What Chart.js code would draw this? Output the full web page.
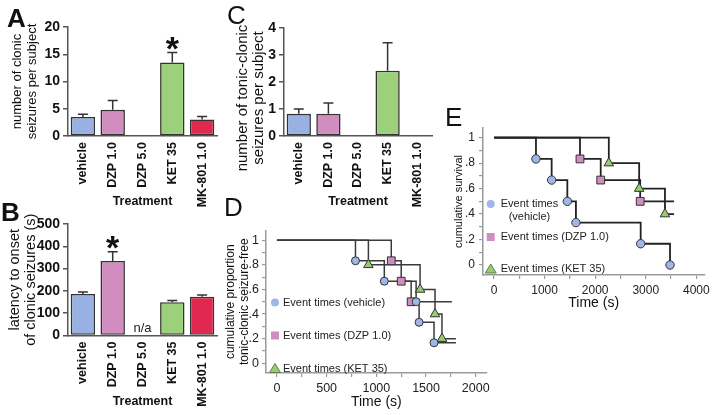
<!DOCTYPE html>
<html><head><meta charset="utf-8">
<script src="https://cdn.jsdelivr.net/npm/chart.js@4.4.1/dist/chart.umd.min.js"></script>
<style>
html,body{margin:0;padding:0;background:#fff;}
#wrap{position:relative;width:714px;height:415px;overflow:hidden;background:#fff;font-family:'Liberation Sans',Arial,Helvetica,sans-serif;}
canvas{position:absolute;}
.pl{position:absolute;font-size:26px;line-height:26px;color:#111;}
</style></head><body>
<div id="wrap">
<canvas id="cA" width="232" height="215" style="left:0px;top:0px;width:232px;height:215px"></canvas>
<canvas id="cB" width="232" height="220" style="left:0px;top:195px;width:232px;height:220px"></canvas>
<canvas id="cC" width="216" height="215" style="left:230px;top:0px;width:216px;height:215px"></canvas>
<canvas id="cD" width="270" height="195" style="left:224px;top:220px;width:270px;height:195px"></canvas>
<canvas id="cE" width="269" height="215" style="left:445px;top:100px;width:269px;height:215px"></canvas>
<div class="pl" style="left:7px;top:5px;font-weight:bold">A</div>
<div class="pl" style="left:1px;top:199px;font-weight:bold">B</div>
<div class="pl" style="left:227px;top:2px">C</div>
<div class="pl" style="left:224px;top:194px">D</div>
<div class="pl" style="left:445px;top:104px">E</div>
</div>
<script>
// ---------- categories ----------
const treatments = ['vehicle','DZP 1.0','DZP 5.0','KET 35','MK-801 1.0'];
const treatmentColors = ['#98b1e2','#d18cc0','#bbbbbb','#9dd07a','#e1284f'];

// ---------- panel A: clonic seizures per subject (mean, upper SEM end) ----------
const clonicCount    = [3.5, 4.8, 0, 13.5, 3.05];
const clonicCountSEM = [4.0, 6.5, null, 15.3, 3.6];
const clonicCountSig = [false, false, false, true, false];

// ---------- panel B: latency to clonic seizures (s) ----------
const clonicLatency    = [186, 334, null, 149, 174];
const clonicLatencySEM = [195, 376, null, 157, 182];
const clonicLatencySig = [false, true, false, false, false];

// ---------- panel C: tonic-clonic seizures per subject ----------
const tonicCount    = [0.82, 0.82, 0, 2.42, 0];
const tonicCountSEM = [1.0, 1.22, null, 3.45, null];
const tonicCountSig = [false, false, false, false, false];

// ---------- panel D: tonic-clonic seizure-free (Kaplan-Meier) ----------
const kmStartTime = 0, kmStartSurv = 1;
const dVehicleTimes = [790, 1080, 1400, 1430, 1580];
const dVehicleSurv  = [0.833, 0.667, 0.5, 0.333, 0.167];
const dDzpTimes = [1150, 1250, 1350];
const dDzpSurv  = [0.833, 0.667, 0.5];
const dKetTimes = [920, 1440, 1590, 1660];
const dKetSurv  = [0.8, 0.6, 0.4, 0.2];
const dFollowUpEnd = [1800, 1760, 1800]; // vehicle, DZP 1.0, KET 35

// ---------- panel E: cumulative survival ----------
const eVehicleTimes = [830, 1140, 1450, 1620, 2900, 3480];
const eVehicleSurv  = [0.833, 0.667, 0.5, 0.333, 0.167, 0];
const eDzpTimes = [1700, 2110, 2890];
const eDzpSurv  = [0.833, 0.667, 0.5];
const eKetTimes = [2270, 2870, 3380];
const eKetSurv  = [0.8, 0.6, 0.4];
const eFollowUpEnd = [3480, 3560, 3560];

// ---------- tick labels ----------
const survTickValues = [0, 0.2, 0.4, 0.6, 0.8, 1];
const survTickLabels = ['0', '.2', '.4', '.6', '.8', '1'];
const survMinorTicks = [0.1, 0.3, 0.5, 0.7, 0.9];
const dTimeTicks = [0, 500, 1000, 1500, 2000];
const dTimeMinor = [250, 750, 1250, 1750];
const eTimeTicks = [0, 1000, 2000, 3000, 4000];
const eTimeMinor = [500, 1500, 2500, 3500];
const kmLegendD = [['Event times (vehicle)'], ['Event times (DZP 1.0)'], ['Event times (KET 35)']];
const kmLegendE = [['Event times', '(vehicle)'], ['Event times (DZP 1.0)'], ['Event times (KET 35)']];
const markerColors = {circle:'#9fb6e8', rect:'#d18cc0', triangle:'#98cb72'};

const FONT = "'Liberation Sans', Arial, Helvetica, sans-serif";
Chart.defaults.font.family = FONT;
Chart.defaults.color = '#111';

const fixW = w => s => { s.width = w; };
const fixH = h => s => { s.height = h; };

const errorBarPlugin = {
  id: 'errbars',
  afterDatasetsDraw(chart, args, o) {
    const {ctx} = chart; const x = chart.scales.x, y = chart.scales.y;
    ctx.save();
    ctx.strokeStyle = '#333'; ctx.lineWidth = 1.5;
    o.tops.forEach((t, i) => {
      if (t == null || o.means[i] == null) return;
      const px = x.getPixelForValue(i), y0 = y.getPixelForValue(o.means[i]), y1 = y.getPixelForValue(t);
      ctx.beginPath(); ctx.moveTo(px, y0); ctx.lineTo(px, y1);
      ctx.moveTo(px - 5, y1); ctx.lineTo(px + 5, y1); ctx.stroke();
      if (o.sig[i]) {
        ctx.fillStyle = '#111'; ctx.font = "bold 34px " + FONT;
        ctx.textAlign = 'center'; ctx.textBaseline = 'alphabetic';
        ctx.fillText('*', px, y1 + 7);
      }
    });
    o.means.forEach((m, i) => {
      if (m == null && o.na) {
        ctx.fillStyle = '#222'; ctx.font = "13px " + FONT;
        ctx.textAlign = 'center'; ctx.textBaseline = 'middle';
        ctx.fillText('n/a', x.getPixelForValue(i), y.bottom - 7.5);
      }
    });
    // y-axis title (rotated, multi-line), placed beside the axis
    if (o.ytitle) {
      const t = o.ytitle;
      ctx.fillStyle = '#111'; ctx.font = t.font; ctx.textAlign = 'center'; ctx.textBaseline = 'middle';
      t.lines.forEach((ln, k) => {
        ctx.save(); ctx.translate(t.x + k * t.dx, t.cy); ctx.rotate(-Math.PI / 2);
        ctx.fillText(ln, 0, 0); ctx.restore();
      });
    }
    ctx.restore();
  }
};

function barChart(id, c) {
  return new Chart(document.getElementById(id), {
    type: 'bar',
    data: {labels: treatments, datasets: [{data: c.values, backgroundColor: treatmentColors, borderColor: '#333',
      borderWidth: 1.6, borderSkipped: false, barPercentage: 0.82, categoryPercentage: 1}]},
    options: {
      responsive: false, animation: false, devicePixelRatio: 1,
      layout: {padding: c.pad},
      plugins: {legend: {display: false}, tooltip: {enabled: false},
        errbars: {means: c.values, tops: c.sem, sig: c.sig, na: c.na, ytitle: c.ytitleDraw}},
      scales: {
        x: {grid: {display: false, drawTicks: false}, border: {display: true, color: '#555', width: 1.5},
          ticks: {autoSkip: false, minRotation: 90, maxRotation: 90, padding: 6, color: '#111',
            font: {size: 12.5, weight: 'bold'}},
          title: {display: true, text: 'Treatment', color: '#111', font: {size: 12.5, weight: 'bold', lineHeight: 1.2},
            padding: {top: 0, bottom: 5.5}},
          afterFit: fixH(c.xh)},
        y: {min: 0, max: c.max, ticks: {stepSize: c.step, padding: 3, color: '#111', font: {size: 14, weight: 'bold'}},
          grid: {display: true, drawOnChartArea: false, drawTicks: true, tickLength: 5, color: '#555', lineWidth: 1.5},
          border: {display: true, color: '#555', width: 1.5},
          title: {display: !!c.ytitle, text: c.ytitle || '', color: '#111', font: {size: c.yfs, lineHeight: c.ylh},
            padding: {top: c.ytp || 0, bottom: 0}},
          afterFit: fixW(c.yw)}
      }
    },
    plugins: [errorBarPlugin]
  });
}

barChart('cA', {values: clonicCount, sem: clonicCountSEM, sig: clonicCountSig, na: false,
  pad: {left: 0, top: 27, right: 15, bottom: 0}, xh: 79, yw: 68, max: 20, step: 5,
  ytitle: ['number of clonic', 'seizures per subject'], yfs: 13, ylh: 1.15, ytp: 9.5});
barChart('cB', {values: clonicLatency, sem: clonicLatencySEM, sig: clonicLatencySig, na: true,
  pad: {left: 0, top: 29, right: 15, bottom: 0}, xh: 79.5, yw: 68, max: 500, step: 100,
  ytitle: ['latency to onset', 'of clonic seizures (s)'], yfs: 14.5, ylh: 1.1, ytp: 7});
barChart('cC', {values: tonicCount, sem: tonicCountSEM, sig: tonicCountSig, na: false,
  pad: {left: 0, top: 28, right: 14, bottom: 0}, xh: 79, yw: 54, max: 4, step: 1,
  ytitleDraw: {lines: ['number of tonic-clonic', 'seizures per subject'], font: "15px " + FONT, x: 12.5, dx: 16, cy: 98}});

// ---------- KM charts ----------
function drawMarker(ctx, style, x, y) {
  ctx.beginPath();
  if (style === 'circle') ctx.arc(x, y, 4, 0, Math.PI * 2);
  else if (style === 'rect') ctx.rect(x - 4, y - 4, 8, 8);
  else { ctx.moveTo(x, y - 5); ctx.lineTo(x + 5.5, y + 4); ctx.lineTo(x - 5.5, y + 4); ctx.closePath(); }
  ctx.fillStyle = markerColors[style]; ctx.fill();
  if (style === 'triangle') { ctx.strokeStyle = '#5f7f48'; ctx.lineWidth = 1; ctx.stroke(); }
}
const kmLegendPlugin = {
  id: 'kmlegend',
  afterDraw(chart, args, o) {
    const {ctx, chartArea: a} = chart;
    ctx.save();
    ctx.font = o.font; ctx.textBaseline = 'middle';
    o.labels.forEach((lines, i) => {
      const mx = a.left + o.x, my = a.top + o.ys[i];
      drawMarker(ctx, o.styles[i], mx, my);
      ctx.fillStyle = '#222';
      ctx.textAlign = 'left';
      ctx.fillText(lines[0], mx + o.gap, my);
      if (lines.length > 1) {
        const w = ctx.measureText(lines[0]).width;
        ctx.textAlign = 'center';
        ctx.fillText(lines[1], mx + o.gap + w / 2, my + o.lh);
      }
    });
    ctx.restore();
  }
};

function kmChart(id, c) {
  const styles = ['circle', 'rect', 'triangle'];
  const datasets = [];
  c.groups.forEach((g, k) => {
    const ev = g.t.map((t, i) => ({x: t, y: g.s[i]}));
    const line = [{x: kmStartTime, y: kmStartSurv}].concat(ev).concat([{x: c.ends[k], y: g.s[g.s.length - 1]}]);
    datasets.push({data: line, showLine: true, stepped: true, borderColor: c.lineColor, borderWidth: c.lw,
      pointRadius: 0, fill: false, order: 2});
    datasets.push({data: ev, showLine: false, pointStyle: styles[k], pointRadius: c.pr[k],
      pointBackgroundColor: markerColors[styles[k]], pointBorderColor: '#333', pointBorderWidth: 1, order: 1});
  });
  const near = (arr, v) => arr.findIndex(m => Math.abs(m - v) < 1e-6);
  return new Chart(document.getElementById(id), {
    type: 'scatter',
    data: {datasets},
    options: {
      responsive: false, animation: false, devicePixelRatio: 1,
      layout: {padding: c.pad},
      plugins: {legend: {display: false}, tooltip: {enabled: false},
        kmlegend: {labels: c.legend, styles, x: c.lgx, ys: c.lgys, gap: c.lgGap, lh: 12.5, font: c.lgFont}},
      scales: {
        x: {type: 'linear', min: c.xmin, max: c.xmax,
          afterBuildTicks: s => { s.ticks = c.xMajor.concat(c.xMinor).sort((a, b) => a - b).map(v => ({value: v})); },
          ticks: {autoSkip: false, maxRotation: 0, padding: 4, color: '#222', font: {size: c.tfs},
            callback: v => near(c.xMajor, v) >= 0 ? String(v) : ''},
          grid: {display: true, drawOnChartArea: false, drawTicks: true, tickLength: 4, color: '#9a9a9a', lineWidth: 1.2},
          border: {display: true, color: '#9a9a9a', width: 1.5},
          title: {display: true, text: 'Time (s)', color: '#111', font: {size: 14, lineHeight: 1.2},
            padding: {top: 0, bottom: c.xtp}},
          afterFit: fixH(c.xh)},
        y: {type: 'linear', min: c.ymin, max: c.ymax,
          afterBuildTicks: s => { s.ticks = survTickValues.concat(survMinorTicks).sort((a, b) => a - b).map(v => ({value: v})); },
          ticks: {autoSkip: false, padding: c.typ, color: '#222', font: {size: c.tfs},
            callback: v => { const i = near(survTickValues, v); return i >= 0 ? survTickLabels[i] : ''; }},
          grid: {display: true, drawOnChartArea: false, drawTicks: true, tickLength: 4, color: '#9a9a9a', lineWidth: 1.2},
          border: {display: true, color: '#9a9a9a', width: 1.5},
          title: {display: true, text: c.ytitle, color: '#111', font: {size: c.yfs, lineHeight: 1.1},
            padding: {top: c.ytp, bottom: 0}},
          afterFit: fixW(c.yw)}
      }
    },
    plugins: [kmLegendPlugin]
  });
}

kmChart('cD', {
  groups: [{t: dVehicleTimes, s: dVehicleSurv}, {t: dDzpTimes, s: dDzpSurv}, {t: dKetTimes, s: dKetSurv}],
  ends: dFollowUpEnd, lineColor: '#3a3a3a', lw: 1.5, pr: [4, 5.5, 5.5],
  pad: {left: 0, top: 6, right: 6, bottom: 0}, yw: 42, xh: 42, xtp: 4.6,
  xmin: -110, xmax: 2110, ymin: -0.079, ymax: 1.079, xMajor: dTimeTicks, xMinor: dTimeMinor,
  tfs: 12.5, typ: 3, ytitle: ['cumulative proportion', 'tonic-clonic seizure-free'], yfs: 12, ytp: 0.4,
  legend: kmLegendD, lgx: 9, lgys: [72, 105, 138], lgGap: 8, lgFont: "11px " + FONT
});
kmChart('cE', {
  groups: [{t: eVehicleTimes, s: eVehicleSurv}, {t: eDzpTimes, s: eDzpSurv}, {t: eKetTimes, s: eKetSurv}],
  ends: eFollowUpEnd, lineColor: '#222', lw: 1.8, pr: [4.2, 5.5, 5.5],
  pad: {left: 0, top: 28, right: 9, bottom: 0}, yw: 38, xh: 40, xtp: 3.1,
  xmin: -217, xmax: 4158, ymin: -0.0786, ymax: 1.076, xMajor: eTimeTicks, xMinor: eTimeMinor,
  tfs: 12, typ: 4, ytitle: 'cumulative survival', yfs: 11, ytp: 8.4,
  legend: kmLegendE, lgx: 7.7, lgys: [76, 109, 141], lgGap: 10, lgFont: "11px " + FONT
});
</script>
</body></html>
